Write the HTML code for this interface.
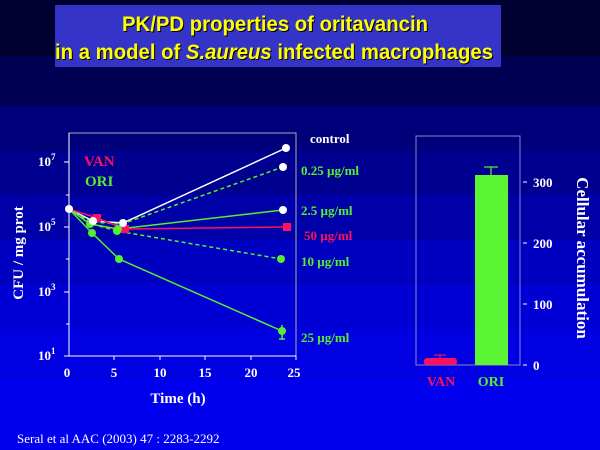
<!DOCTYPE html>
<html><head><meta charset="utf-8"><style>
body{margin:0;width:600px;height:450px;overflow:hidden;background:#0000ee}
svg{display:block}
</style></head><body>
<svg width="600" height="450" xmlns="http://www.w3.org/2000/svg">
<rect x="0" y="0" width="600" height="56" fill="#000030"/>
<rect x="0" y="56" width="600" height="50" fill="#000052"/>
<rect x="0" y="106" width="600" height="45" fill="#00007a"/>
<rect x="0" y="151" width="600" height="44" fill="#000090"/>
<rect x="0" y="195" width="600" height="45" fill="#0000a8"/>
<rect x="0" y="240" width="600" height="45" fill="#0000c0"/>
<rect x="0" y="285" width="600" height="45" fill="#0000d4"/>
<rect x="0" y="330" width="600" height="50" fill="#0000e2"/>
<rect x="0" y="380" width="600" height="70" fill="#0000ee"/>
<rect x="55" y="5" width="446" height="62" fill="#3434c8"/>
<g font-family="Liberation Sans, sans-serif" font-weight="bold" font-size="21">
<text x="123" y="32" fill="#000" textLength="306" lengthAdjust="spacingAndGlyphs">PK/PD properties of oritavancin</text>
<text x="122" y="31" fill="#ffff00" textLength="306" lengthAdjust="spacingAndGlyphs">PK/PD properties of oritavancin</text>
<text x="56" y="60" fill="#000" textLength="438" lengthAdjust="spacingAndGlyphs">in a model of <tspan font-style="italic">S.aureus</tspan> infected macrophages</text>
<text x="55" y="59" fill="#ffff00" textLength="438" lengthAdjust="spacingAndGlyphs">in a model of <tspan font-style="italic">S.aureus</tspan> infected macrophages</text>
</g>
<!-- left chart -->
<rect x="69" y="133" width="227" height="223" fill="none" stroke="#aab" stroke-width="1"/>
<g stroke="#fff" stroke-width="1">
<line x1="69" y1="356" x2="69" y2="133"/><line x1="69" y1="356" x2="296" y2="356"/>
<line x1="64" y1="162" x2="69" y2="162"/><line x1="66" y1="195" x2="69" y2="195"/>
<line x1="64" y1="227" x2="69" y2="227"/><line x1="66" y1="259" x2="69" y2="259"/>
<line x1="64" y1="292" x2="69" y2="292"/><line x1="66" y1="324" x2="69" y2="324"/>
<line x1="64" y1="356" x2="69" y2="356"/>
<line x1="114" y1="356" x2="114" y2="360"/><line x1="160" y1="356" x2="160" y2="360"/>
<line x1="205" y1="356" x2="205" y2="360"/><line x1="251" y1="356" x2="251" y2="360"/><line x1="296" y1="356" x2="296" y2="360"/>
</g>
<g font-family="Liberation Serif, serif" font-weight="bold" fill="#fff" font-size="13">
<text x="38" y="166">10<tspan font-size="9" dy="-6">7</tspan></text>
<text x="38" y="231">10<tspan font-size="9" dy="-6">5</tspan></text>
<text x="38" y="296">10<tspan font-size="9" dy="-6">3</tspan></text>
<text x="38" y="360">10<tspan font-size="9" dy="-6">1</tspan></text>
<g text-anchor="middle"><text x="67" y="377">0</text><text x="114" y="377">5</text><text x="160" y="377">10</text><text x="205" y="377">15</text><text x="251" y="377">20</text><text x="294" y="377">25</text></g>
<text x="178" y="403" text-anchor="middle" font-size="15">Time (h)</text>
<text transform="translate(23,253) rotate(-90)" text-anchor="middle" font-size="15">CFU / mg prot</text>
<text x="84" y="166" fill="#ff1060" font-size="15">VAN</text>
<text x="85" y="186" fill="#55ee33" font-size="15">ORI</text>
<text x="310" y="143" font-size="13">control</text>
<text x="301" y="175" fill="#55ee33" font-size="13">0.25 µg/ml</text>
<text x="301" y="215" fill="#55ee33" font-size="13">2.5 µg/ml</text>
<text x="304" y="240" fill="#ff1060" font-size="13">50 µg/ml</text>
<text x="301" y="266" fill="#55ee33" font-size="13">10 µg/ml</text>
<text x="301" y="342" fill="#55ee33" font-size="13">25 µg/ml</text>
</g>
<g fill="none" stroke-width="1.5">
<polyline points="69,209 93,221 123,223 286,148" stroke="#fff"/>
<polyline points="69,209 91,222 122,224 283,167" stroke="#55ee33" stroke-dasharray="4,3"/>
<polyline points="69,209 90,224 118,229 283,210" stroke="#55ee33"/>
<polyline points="69,209 97,218 125,229 287,227" stroke="#ff1060"/>
<polyline points="69,209 92,224 117,231 281,259" stroke="#55ee33" stroke-dasharray="4,3"/>
<polyline points="69,209 92,233 119,259 282,331" stroke="#55ee33"/>
<line x1="282" y1="325" x2="282" y2="339" stroke="#55ee33"/>
<line x1="279" y1="339" x2="285" y2="339" stroke="#55ee33"/>
</g>
<g>
<rect x="93" y="214" width="8" height="8" fill="#ff1060"/><rect x="121" y="225" width="8" height="8" fill="#ff1060"/><rect x="283" y="223" width="8" height="8" fill="#ff1060"/>
<g fill="#55ee33"><circle cx="90" cy="224" r="4"/><circle cx="118" cy="229" r="4"/><circle cx="92" cy="233" r="4"/><circle cx="119" cy="259" r="4"/><circle cx="282" cy="331" r="4"/><circle cx="281" cy="259" r="4"/><circle cx="117" cy="231" r="4"/></g>
<g fill="#fff"><circle cx="69" cy="209" r="4"/><circle cx="93" cy="221" r="4"/><circle cx="123" cy="223" r="4"/><circle cx="286" cy="148" r="4"/><circle cx="283" cy="167" r="4"/><circle cx="283" cy="210" r="4"/></g>
</g>
<!-- right chart -->
<rect x="416" y="136" width="104" height="229" fill="none" stroke="#8888cc" stroke-width="1"/>
<rect x="475" y="175" width="33" height="190" fill="#5cf533"/>
<g stroke="#5cf533" stroke-width="1.2"><line x1="491" y1="175" x2="491" y2="167"/><line x1="484" y1="167" x2="498" y2="167"/></g>
<rect x="424" y="358" width="33" height="7" rx="3" fill="#ff1060"/>
<g stroke="#ff1060" stroke-width="1.2"><line x1="440" y1="358" x2="440" y2="355"/><line x1="434" y1="355" x2="446" y2="355"/></g>
<g stroke="#fff"><line x1="523" y1="182" x2="527" y2="182"/><line x1="523" y1="243" x2="527" y2="243"/><line x1="523" y1="304" x2="527" y2="304"/><line x1="523" y1="365" x2="527" y2="365"/></g>
<g font-family="Liberation Serif, serif" font-weight="bold" font-size="13" fill="#fff">
<text x="533" y="187">300</text><text x="533" y="248">200</text><text x="533" y="309">100</text><text x="533" y="370">0</text>
<text transform="translate(577,258) rotate(90)" text-anchor="middle" font-size="17">Cellular accumulation</text>
<text x="441" y="386" fill="#ff1060" text-anchor="middle" font-size="14">VAN</text>
<text x="491" y="386" fill="#55ee33" text-anchor="middle" font-size="14">ORI</text>
</g>
<text x="17" y="443" font-family="Liberation Serif, serif" font-size="13" fill="#fff">Seral et al AAC (2003) 47 : 2283-2292</text>
</svg>
</body></html>
